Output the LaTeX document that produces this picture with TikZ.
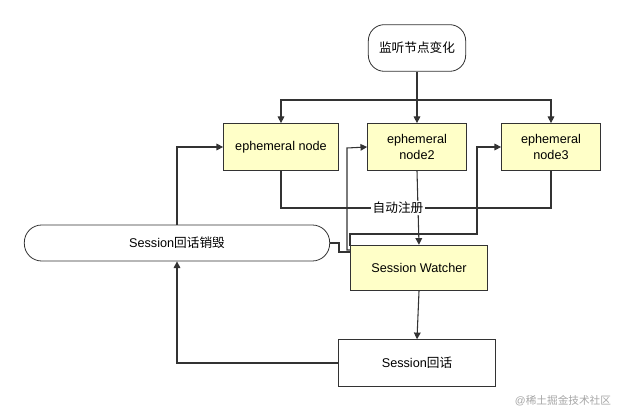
\documentclass[tikz,border=0pt]{standalone}
\usepackage{fontspec}
\setmainfont{Liberation Sans}
\newfontfamily\cjk{Noto Sans CJK SC}
\usetikzlibrary{arrows.meta,positioning}
\definecolor{boxfill}{HTML}{FFFFC8}
\definecolor{linegray}{HTML}{333333}
\tikzset{
  ephbox/.style={draw=linegray, thick, fill=boxfill, minimum width=86pt, minimum height=35pt, align=center, font=\fontsize{9.5}{11.5}\selectfont},
  plainbox/.style={draw=linegray, semithick, fill=white, minimum height=35pt, align=center, font=\fontsize{9.5}{11.5}\selectfont},
  link/.style={-{Triangle[length=5pt,width=5pt]}, thick, linegray},
  wire/.style={thick, linegray}
}
\begin{document}
\begin{tikzpicture}[x=0.75pt,y=-0.75pt]
    \useasboundingbox (0,0) rectangle (626,413);

    % Nodes
    \node[plainbox, rounded corners=12pt, minimum width=73pt, minimum height=35pt] (watch) at (417,48) {\cjk 监听节点变化};
    \node[ephbox, minimum width=86pt] (en1) at (281,147) {ephemeral node};
    \node[ephbox, minimum width=74pt] (en2) at (417,147) {ephemeral\\node2};
    \node[ephbox, minimum width=74pt] (en3) at (551,147) {ephemeral\\node3};
    \node[ephbox, minimum width=103pt, minimum height=34pt] (sw) at (419,268) {Session Watcher};
    \node[plainbox, rounded corners=13pt, minimum width=229pt, minimum height=27pt] (destroy) at (177,243) {Session{\cjk 回话销毁}};
    \node[plainbox, minimum width=118pt] (sess) at (417,363) {Session{\cjk 回话}};
    \node[font=\footnotesize, text=gray!70] (mark) at (563,401) {@{\cjk 稀土掘金技术社区}};

    % Watcher fan-out
    \coordinate (split) at (417,100);
    \draw[link] (watch.south) -- (en2.north);
    \draw[link] (split) -| (en1.north);
    \draw[link] (split) -| (en3.north);

    % Auto registration
    \coordinate (join) at (417,208);
    \draw[wire] (en1.south) |- (join);
    \draw[wire] (en3.south) |- (join);
    \draw[link] (en2.south) -- (sw.north);
    \node[fill=white, inner sep=1pt, font=\fontsize{9.5}{11.5}\selectfont\cjk] (reg) at (398,208) {自动注册};

    % Watcher to nodes
    \coordinate (w2) at (347,148);
    \draw[link] (sw.west |- 0,250) -- (347,250) -- (w2) -- (en2.west);
    \draw[link] (350,246) -- (350,234) -- (477,234) |- (en3.west);
    \draw[wire] (destroy.east) -- (339,243) -- (339,252) -- (sw.west |- 0,252);

    % Session lifecycle
    \draw[link] (sw.south) -- (sess.north);
    \draw[link] (sess.west) -| (destroy.south);
    \draw[link] (destroy.north) |- (en1.west);
\end{tikzpicture}
\end{document}
